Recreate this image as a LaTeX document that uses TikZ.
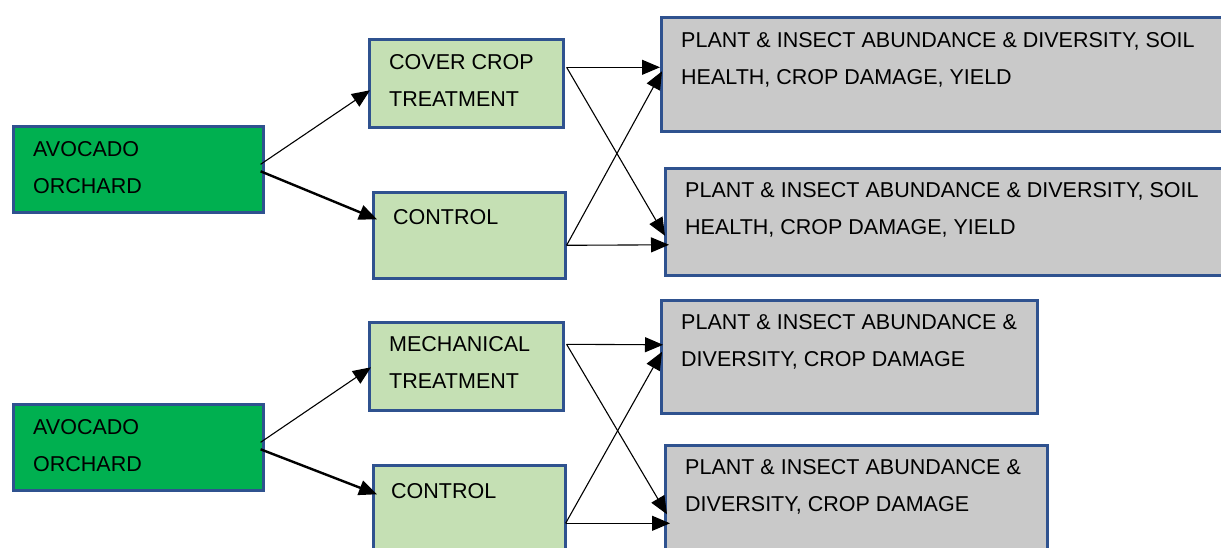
\documentclass[tikz,border=0pt]{standalone}
\usepackage{fontspec}
\setmainfont{Liberation Sans}
\usetikzlibrary{arrows.meta}
\definecolor{orchard}{HTML}{00B050}
\definecolor{treat}{HTML}{C5E0B4}
\definecolor{result}{HTML}{C9C9C9}
\definecolor{edge}{HTML}{2F528F}

\begin{document}
\begin{tikzpicture}[x=1pt,y=-1pt,
  box/.style={draw=edge,line width=2.6pt,anchor=north west,inner sep=0pt},
  lbl/.style={anchor=north west,inner sep=0pt,align=left,font=\fontsize{21.5}{37}\selectfont},
  link/.style={-{Triangle[length=18pt,width=15pt]},line width=1.1pt},
  bold link/.style={link,line width=2.4pt}]
\useasboundingbox (0,0) rectangle (1221,548);
\clip (0,0) rectangle (1221,548);

% first trial
\node[box,fill=orchard,minimum width=250,minimum height=86] (orch1) at (12,125) {};
\node[box,fill=treat,minimum width=194,minimum height=88] (cover) at (368,38) {};
\node[box,fill=treat,minimum width=192,minimum height=86] (ctrl1) at (372,191) {};
\node[box,fill=result,minimum width=620,minimum height=114] (res1) at (660,16) {};
\node[box,fill=result,minimum width=620,minimum height=107] (res2) at (664,167) {};

\node[lbl] at ([shift={(21,16)}]orch1.north west) {AVOCADO\\ORCHARD};
\node[lbl] at ([shift={(21,16)}]cover.north west) {COVER CROP\\TREATMENT};
\node[lbl] at ([shift={(21,18)}]ctrl1.north west) {CONTROL};
\node[lbl] at ([shift={(21,16)}]res1.north west) {PLANT \& INSECT ABUNDANCE \& DIVERSITY, SOIL\\HEALTH, CROP DAMAGE, YIELD};
\node[lbl] at ([shift={(21,15)}]res2.north west) {PLANT \& INSECT ABUNDANCE \& DIVERSITY, SOIL\\HEALTH, CROP DAMAGE, YIELD};

\draw[link] ([shift={(-4,-5)}]orch1.east) -- ([shift={(2,7)}]cover.west);
\draw[bold link] ([shift={(-4,2)}]orch1.east) -- ([shift={(5,-16)}]ctrl1.west);
\draw[link] ([shift={(2,-16)}]cover.east) -- ([shift={(0,-7)}]res1.west);
\draw[link] ([shift={(2,-16)}]cover.east) -- ([shift={(1,14)}]res2.west);
\draw[link] ([shift={(0,10)}]ctrl1.east) -- ([shift={(2,-3)}]res1.west);
\draw[link] ([shift={(0,10)}]ctrl1.east) -- ([shift={(5,23)}]res2.west);

% second trial
\node[box,fill=orchard,minimum width=250,minimum height=86] (orch2) at (12,403) {};
\node[box,fill=treat,minimum width=194,minimum height=88] (mech) at (368,321) {};
\node[box,fill=treat,minimum width=192,minimum height=100] (ctrl2) at (372,464) {};
\node[box,fill=result,minimum width=376,minimum height=113] (res3) at (660,299) {};
\node[box,fill=result,minimum width=382,minimum height=120] (res4) at (664,444) {};

\node[lbl] at ([shift={(21,16)}]orch2.north west) {AVOCADO\\ORCHARD};
\node[lbl] at ([shift={(21,15)}]mech.north west) {MECHANICAL\\TREATMENT};
\node[lbl] at ([shift={(19,19)}]ctrl2.north west) {CONTROL};
\node[lbl] at ([shift={(21,15)}]res3.north west) {PLANT \& INSECT ABUNDANCE \&\\DIVERSITY, CROP DAMAGE};
\node[lbl] at ([shift={(21,15)}]res4.north west) {PLANT \& INSECT ABUNDANCE \&\\DIVERSITY, CROP DAMAGE};

\draw[link] ([shift={(-4,-5)}]orch2.east) -- ([shift={(3,1)}]mech.west);
\draw[bold link] ([shift={(-4,2)}]orch2.east) -- ([shift={(5,-21)}]ctrl2.west);
\draw[link] ([shift={(2,-22)}]mech.east) -- ([shift={(3,-12)}]res3.west);
\draw[link] ([shift={(2,-22)}]mech.east) -- ([shift={(3,9)}]res4.west);
\draw[link] ([shift={(-1,8)}]ctrl2.east) -- ([shift={(2,-5)}]res3.west);
\draw[link] ([shift={(-1,8)}]ctrl2.east) -- ([shift={(6,18)}]res4.west);
\end{tikzpicture}
\end{document}
